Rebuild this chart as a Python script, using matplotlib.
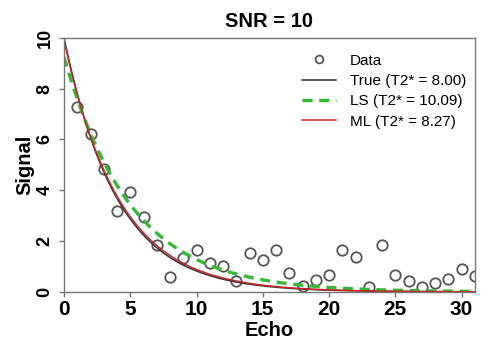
import numpy as np
import matplotlib
matplotlib.use("Agg")
import matplotlib.pyplot as plt

plt.rcParams['font.family'] = ['Liberation Sans', 'DejaVu Sans']

# measured signal per echo
echo = np.arange(1, 32)
signal = [7.29, 6.20, 4.82, 3.20, 3.93, 2.94, 1.85, 0.58, 1.32, 1.65,
          1.13, 1.02, 0.41, 1.52, 1.27, 1.66, 0.73, 0.24, 0.47, 0.66,
          1.66, 1.38, 0.21, 1.86, 0.67, 0.41, 0.18, 0.34, 0.50, 0.92, 0.63]

# fitted model parameters (echo spacing TE = 2)
te = 2.0
models = ['True', 'LS', 'ML']
s0 = [10.0, 9.25, 9.9]
t2 = [8.00, 10.09, 8.27]
colors = ['#333333', '#33bb33', '#cc2222']
styles = ['-', (0, (3, 2)), '-']
widths = [1.1, 2.4, 1.1]

fig = plt.figure(figsize=(4.85, 3.43), dpi=100)
ax = fig.add_axes([0.132, 0.149, 0.847, 0.741])

ax.plot(echo, signal, 'o', mfc='none', mec='#555555', ms=7.5, mew=1.3,
        linestyle='none', label='Data')

t = np.linspace(0, 31, 300)
for name, a, tau, c, ls, lw in zip(models, s0, t2, colors, styles, widths):
    ax.plot(t, a * np.exp(-t * te / tau), color=c, linestyle=ls, lw=lw,
            label=f'{name} (T2* = {tau:.2f})')

ax.set_xlim(0, 31)
ax.set_ylim(0, 10)
ax.set_xticks([0, 5, 10, 15, 20, 25, 30])
ax.set_yticks([0, 2, 4, 6, 8, 10])
for s in ax.spines.values():
    s.set_color('#777777')
    s.set_linewidth(1.0)
ax.tick_params(direction='out', length=3.5, width=1, color='#777777', pad=2)
ax.tick_params(axis='x', labelsize=15)
ax.tick_params(axis='y', labelsize=13, pad=4)
for lab in ax.get_xticklabels() + ax.get_yticklabels():
    lab.set_fontweight('bold')
for lab in ax.get_yticklabels():
    lab.set_rotation(90)
    lab.set_va('center')

ax.set_title('SNR = 10', fontsize=14.5, fontweight='bold', pad=8)
ax.set_xlabel('Echo', fontsize=14.5, fontweight='bold', va='center')
ax.xaxis.set_label_coords(0.5, -0.152)
ax.set_ylabel('Signal', fontsize=14.5, fontweight='bold', va='center')
ax.yaxis.set_label_coords(-0.095, 0.5)

leg = ax.legend(loc='upper right', bbox_to_anchor=(1.005, 0.98),
                frameon=False, fontsize=11, handlelength=2.2,
                labelspacing=0.42, borderaxespad=0.3, handletextpad=0.9,
                markerscale=0.75)

fig.savefig('out.png', dpi=100)
